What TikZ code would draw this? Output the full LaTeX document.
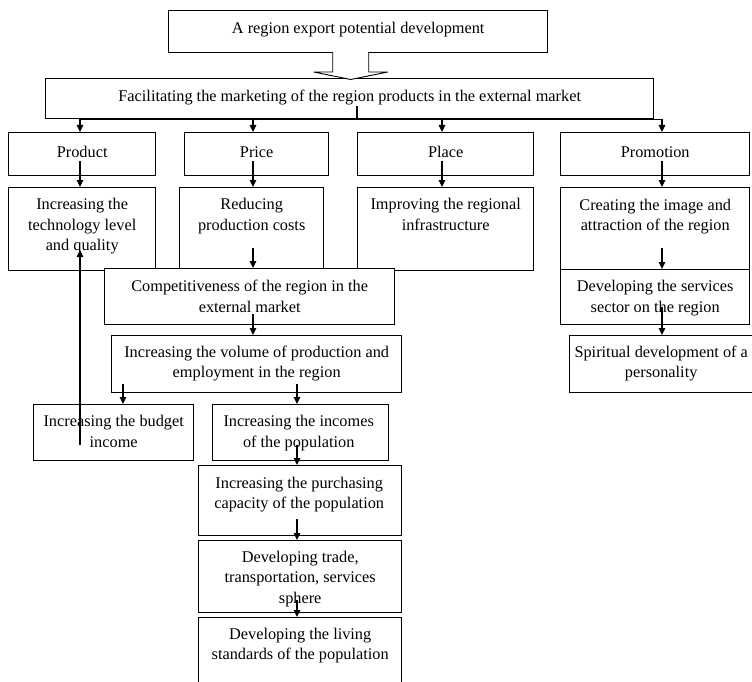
\documentclass[tikz,border=0pt]{standalone}
\usepackage{fontspec}
\setmainfont{Liberation Serif}
\usetikzlibrary{arrows.meta,calc}
\newcommand\fs{\fontsize{16.3}{20.5}\selectfont}
\newcommand\tl{\rule{0pt}{12pt}}
\begin{document}
\begin{tikzpicture}[x=1pt,y=-1pt,
  box/.style={draw, line width=1.4pt, fill=white, inner sep=0pt, anchor=north west},
  lbl/.style={inner sep=0pt, align=center, anchor=north, font=\fs},
  arr/.style={line width=1.2pt, -{Triangle[length=7pt,width=6.5pt]}},
  ln/.style={line width=1.2pt},
  hollow/.style={line width=0.9pt, fill=white}]
\useasboundingbox (0,0) rectangle (752,682);
\clip (0,0) rectangle (752,682);
% columns for connectors
\coordinate (cA) at (80,0);
\coordinate (cB) at (253,0);
\coordinate (cC) at (442,0);
\coordinate (cD) at (662,0);
\coordinate (cE) at (123,0);
\coordinate (cF) at (297,0);
\coordinate (cH) at (357,0);
\coordinate (ha) at (350,52);
% boxes
\node[box, minimum width=379, minimum height=42] (top) at (168,10) {};
\node[box, minimum width=608, minimum height=40] (fac) at (45,78) {};
\node[box, minimum width=147, minimum height=43] (product) at (8,132) {};
\node[box, minimum width=144, minimum height=43] (price) at (184,132) {};
\node[box, minimum width=176, minimum height=43] (place) at (357,132) {};
\node[box, minimum width=189, minimum height=43] (promo) at (560,132) {};
\node[box, minimum width=147, minimum height=83] (tech) at (8,187) {};
\node[box, minimum width=144, minimum height=83] (reduce) at (179,187) {};
\node[box, minimum width=176, minimum height=83] (improv) at (357,187) {};
\node[box, minimum width=189, minimum height=82] (create) at (560,187) {};
\node[box, minimum width=290, minimum height=56] (comp) at (104,268) {};
\node[box, minimum width=189, minimum height=55] (serv) at (560,269) {};
\node[box, minimum width=290, minimum height=57] (volume) at (111,335) {};
\node[box, minimum width=185, minimum height=57] (spirit) at (569,335) {};
\node[box, minimum width=160, minimum height=56] (budget) at (33,404) {};
\node[box, minimum width=176, minimum height=56] (incomes) at (212,404) {};
\node[box, minimum width=203, minimum height=70] (purch) at (198,465) {};
\node[box, minimum width=203, minimum height=72] (trade) at (198,540) {};
\node[box, minimum width=203, minimum height=80] (living) at (198,617) {};
% texts
\node[lbl] (top-t) at ($(top.north)+(0,11.3)$) {\tl A region export potential development};
\node[lbl] (fac-t) at ($(fac.north)+(0,11.7)$) {\tl Facilitating the marketing of the region products in the external market};
\node[lbl] (product-t) at ($(product.north)+(0,13)$) {\tl Product};
\node[lbl] (price-t) at ($(price.north)+(0,13)$) {\tl Price};
\node[lbl] (place-t) at ($(place.north)+(0,13)$) {\tl Place};
\node[lbl] (promo-t) at ($(promo.north)+(0,13)$) {\tl Promotion};
\node[lbl] (tech-t) at ($(tech.north)+(0,10.5)$) {\tl Increasing the\\technology level\\and quality};
\node[lbl] (reduce-t) at ($(reduce.north)+(0,10.5)$) {\tl Reducing\\production costs};
\node[lbl] (improv-t) at ($(improv.north)+(0,10.5)$) {\tl Improving the regional\\infrastructure};
\node[lbl] (create-t) at ($(create.north)+(0,11)$) {\tl Creating the image and\\attraction of the region};
\node[lbl] (comp-t) at ($(comp.north)+(0,11.5)$) {\tl Competitiveness of the region in the\\external market};
\node[lbl] (serv-t) at ($(serv.north)+(0,10.7)$) {\tl Developing the services\\sector on the region};
\node[lbl] (volume-t) at ($(volume.north)+(0,10)$) {\tl Increasing the volume of production and\\employment in the region};
\node[lbl] (spirit-t) at ($(spirit.north)+(-1,10)$) {\tl Spiritual development of a\\personality};
\node[lbl] (budget-t) at ($(budget.north)+(0,10.7)$) {\tl Increasing the budget\\income};
\node[lbl] (incomes-t) at ($(incomes.north)+(-2,10.7)$) {\tl Increasing the incomes\\of the population};
\node[lbl] (purch-t) at ($(purch.north)+(-1,11)$) {\tl Increasing the purchasing\\capacity of the population};
\node[lbl] (trade-t) at ($(trade.north)+(0,10)$) {\tl Developing trade,\\transportation, services\\sphere};
\node[lbl] (living-t) at ($(living.north)+(0,10)$) {\tl Developing the living\\standards of the population};
% hollow arrow between top and fac
\draw[hollow] (ha -| top.south) ++(-25.5,0) -- ++(0,20) -- ++(-19,0) -- ++(37,7.5) -- ++(37,-7.5) -- ++(-19,0) -- ++(0,-20);
% bus from fac
\draw[ln] ($(fac.south -| cH)+(0,-13)$) -- (fac.south -| cH);
\draw[ln] (fac.south -| cA) -- (fac.south -| cD);
\draw[arr] (fac.south -| cA) -- (product.north -| cA);
\draw[arr] (fac.south -| cB) -- (price.north -| cB);
\draw[arr] (fac.south -| cC) -- (place.north -| cC);
\draw[arr] (fac.south -| cD) -- (promo.north -| cD);
% second row
\draw[arr] ($(product.south -| cA)+(0,-15)$) -- (tech.north -| cA);
\draw[arr] ($(price.south -| cB)+(0,-15)$) -- (reduce.north -| cB);
\draw[arr] ($(place.south -| cC)+(0,-15)$) -- (improv.north -| cC);
\draw[arr] ($(promo.south -| cD)+(0,-15)$) -- (create.north -| cD);
% chains
\draw[arr] ($(reduce.north -| cB)+(0,61)$) -- (comp.north -| cB);
\draw[arr] ($(create.north -| cD)+(0,61)$) -- (serv.north -| cD);
\draw[arr] ($(serv.north -| cD)+(0,38)$) -- (spirit.north -| cD);
\draw[arr] ($(comp.south -| cB)+(0,-11)$) -- (volume.north -| cB);
\draw[arr] ($(volume.south -| cE)+(0,-9)$) -- (budget.north -| cE);
\draw[arr] ($(volume.south -| cF)+(0,-9)$) -- (incomes.north -| cF);
\draw[arr] ($(incomes.south -| cF)+(0,-16)$) -- (purch.north -| cF);
\draw[arr] ($(purch.south -| cF)+(0,-17)$) -- (trade.north -| cF);
\draw[arr] ($(trade.south -| cF)+(0,-13)$) -- (living.north -| cF);
\draw[arr] ($(budget.south -| cA)+(0,-16)$) -- ($(tech.north -| cA)+(0,63)$);
\end{tikzpicture}
\end{document}
